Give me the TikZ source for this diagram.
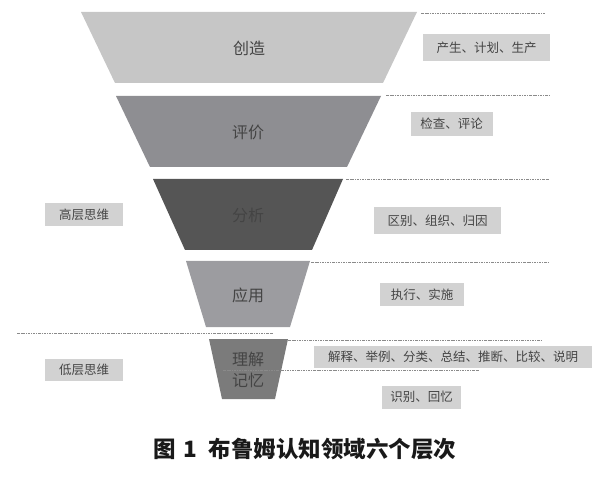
\documentclass[tikz,border=0pt]{standalone}
\usepackage{fontspec}
\newfontfamily\cjk{Noto Sans CJK SC}
\definecolor{lvA}{HTML}{C6C6C6}
\definecolor{lvB}{HTML}{8E8E92}
\definecolor{lvC}{HTML}{555555}
\definecolor{lvD}{HTML}{9C9CA0}
\definecolor{lvE}{HTML}{7B7B7B}
\definecolor{tagfill}{HTML}{D2D2D2}
\definecolor{inkgray}{HTML}{444444}
\definecolor{guidegray}{HTML}{8A8A8A}
\tikzset{
  lvl/.style={text=inkgray, font=\cjk\fontsize{16}{16}\selectfont, inner sep=0pt},
  tag/.style={fill=tagfill, text=inkgray, font=\cjk\fontsize{12.5}{13}\selectfont,
    inner sep=0pt, minimum height=24},
  guide/.style={draw=guidegray, line width=0.6pt, dash pattern=on 2.5pt off 1pt on 0.8pt off 1pt}
}
\begin{document}
\begin{tikzpicture}[x=1pt,y=-1pt] % Bloom funnel, pixel coordinates

\useasboundingbox (0,0) rectangle (600,481);

% funnel levels
\fill[lvA] (81,12) -- (417,12) -- (383,83) -- (115,83) -- cycle;
\fill[lvB] (116,96) -- (381,96) -- (347,167) -- (150,167) -- cycle;
\fill[lvC] (153,179) -- (343,179) -- (312,250) -- (185,250) -- cycle;
\fill[lvD] (186,261) -- (310,261) -- (290,327) -- (206,327) -- cycle;
\fill[lvE] (209,339) -- (288,339) -- (275,399) -- (222,399) -- cycle;

% guide lines
\draw[guide] (421,13) -- (545,13);
\draw[guide] (386,95) -- (549,95);
\draw[guide] (346,179) -- (549,179);
\draw[guide] (311,262) -- (549,262);
\draw[guide] (17,333) -- (273,333);
\draw[guide] (288,340) -- (542,340);
\draw[guide] (223,370) -- (479,370);

\node[lvl] (create) at (249,48) {创造};
\node[lvl] (evaluate) at (248,132) {评价};
\node[lvl] (analyse) at (248,215) {分析};
\node[lvl] (apply) at (248,295) {应用};
\node[lvl] (understand) at (248,359) {理解};
\node[lvl] (remember) at (248,380) {记忆};

\node[tag, minimum width=127, minimum height=27] (createTag) at (486.5,47.5) {产生、计划、生产};
\node[tag, minimum width=82] (evaluateTag) at (451.5,124) {检查、评论};
\node[tag, minimum width=127, minimum height=27] (analyseTag) at (437.5,221) {区别、组织、归因};
\node[tag, minimum width=84, minimum height=23] (applyTag) at (422,294.5) {执行、实施};
\node[tag, minimum width=278, minimum height=22] (understandTag) at (453,356.5) {解释、举例、分类、总结、推断、比较、说明};
\node[tag, minimum width=79, minimum height=23] (rememberTag) at (421.5,397) {识别、回忆};
\node[tag, minimum width=78, minimum height=23] (high) at (84,214.5) {高层思维};
\node[tag, minimum width=78, minimum height=22] (low) at (84,370) {低层思维};

\node[font=\cjk\bfseries\fontsize{22.5}{23}\selectfont, text=black!90] (title) at (305,449)
  {图\hspace{7pt}1\hspace{12pt}布鲁姆认知领域六个层次};
\end{tikzpicture}
\end{document}
